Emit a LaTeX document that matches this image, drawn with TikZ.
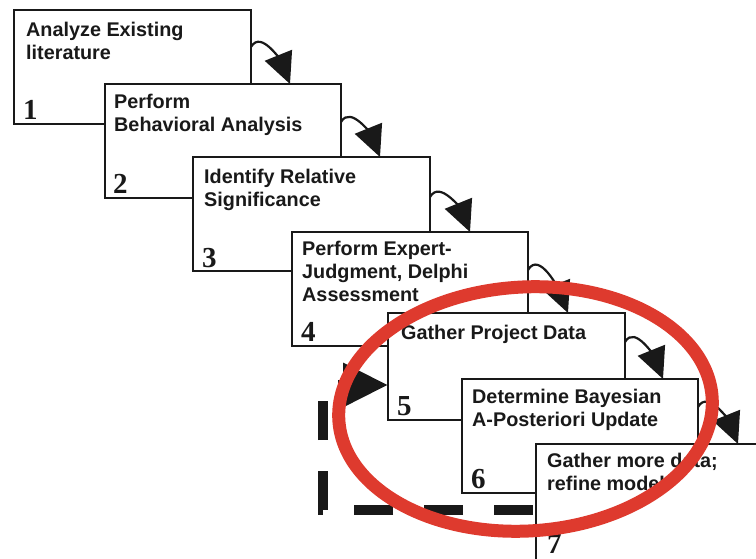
\documentclass[tikz,border=0pt]{standalone}
\usepackage{fontspec}
\setmainfont{Liberation Sans}
\newfontfamily\numfont{Liberation Serif}
\usetikzlibrary{arrows.meta,calc}
\definecolor{hlred}{RGB}{222,58,46}
\definecolor{ink}{RGB}{25,25,25}
\begin{document}
\begin{tikzpicture}[x=1pt,y=1pt,
  stepbox/.style={draw=ink, line width=1.7pt, fill=white, minimum width=237pt, minimum height=114pt, anchor=north west, inner sep=0pt, outer sep=0pt},
  lbl/.style={anchor=north west, inner sep=0pt, align=left, text=ink, font=\bfseries\fontsize{19.8}{23}\selectfont},
  num/.style={anchor=base west, inner sep=0pt, text=ink, font=\numfont\bfseries\fontsize{29}{29}\selectfont},
  flow/.style={draw=ink, line width=2.2pt, -{Triangle[length=31pt,width=29pt]}},
  feedback/.style={draw=ink, line width=9.5pt, dash pattern=on 39pt off 31pt, dash phase=67pt, -{Triangle[length=45pt,width=42pt]}},
  highlight/.style={draw=hlred, line width=13pt}
]
\useasboundingbox (0,0) rectangle (756,558);
\clip (0,0) rectangle (756,558);

\node[stepbox] (b1) at (14,548) {};
\node[lbl] (t1) at ($(b1.north west)+(12,-11.6)$) {Analyze Existing\\literature};
\node[num] (n1) at ($(b1.south west)+(9,4)$) {1};

\node[stepbox, minimum width=236pt] (b2) at (105,474) {};
\node[lbl] (t2) at ($(b2.north west)+(9,-9.6)$) {Perform\\Behavioral Analysis};
\node[num] (n2) at ($(b2.south west)+(8,4)$) {2};

\node[stepbox] (b3) at (193,401) {};
\node[lbl] (t3) at ($(b3.north west)+(11,-11.6)$) {Identify Relative\\Significance};
\node[num] (n3) at ($(b3.south west)+(9,3)$) {3};

\node[stepbox, minimum width=236pt] (b4) at (292,326) {};
\node[lbl] (t4) at ($(b4.north west)+(10,-8.6)$) {Perform Expert-\\Judgment, Delphi\\Assessment};
\node[num] (n4) at ($(b4.south west)+(9,4)$) {4};

\node[stepbox, minimum height=107pt] (b5) at (388,245) {};
\node[lbl] (t5) at ($(b5.north west)+(13,-11.6)$) {Gather Project Data};
\node[num] (n5) at ($(b5.south west)+(9,5)$) {5};

\node[stepbox, minimum width=236pt] (b6) at (462,179) {};
\node[lbl] (t6) at ($(b6.north west)+(10,-9.6)$) {Determine Bayesian\\A-Posteriori Update};
\node[num] (n6) at ($(b6.south west)+(9,5)$) {6};

\node[stepbox, minimum height=124pt] (b7) at (536,114) {};
\node[lbl] (t7) at ($(b7.north west)+(11,-8.6)$) {Gather more data;\\refine model};
\node[num] (n7) at ($(b7.north west)+(11,-109)$) {7};

\draw[flow] ($(b1.north east)+(0,-37)$) to[out=60,in=112] ($(b1.east |- b2.north)+(39,0)$);
\draw[flow] ($(b2.north east)+(0,-38)$) to[out=60,in=112] ($(b2.east |- b3.north)+(39,0)$);
\draw[flow] ($(b3.north east)+(0,-40)$) to[out=60,in=112] ($(b3.east |- b4.north)+(40,0)$);
\draw[flow] ($(b4.north east)+(0,-38)$) to[out=60,in=112] ($(b4.east |- b5.north)+(40,0)$);
\draw[flow] ($(b5.north east)+(0,-29)$) to[out=60,in=112] ($(b5.east |- b6.north)+(38,0)$);
\draw[flow] ($(b6.north east)+(0,-28)$) to[out=60,in=112] ($(b6.east |- b7.north)+(40,0)$);

\draw[feedback] ($(b7.north west)+(0,-66)$) -| ($(b5.north west)+(-65,-72)$) -- ($(b5.north west)+(0,-72)$);

\draw[highlight, rotate around={3.4:(525.5,149)}] (525.5,149) ellipse [x radius=187, y radius=122];
\end{tikzpicture}
\end{document}
